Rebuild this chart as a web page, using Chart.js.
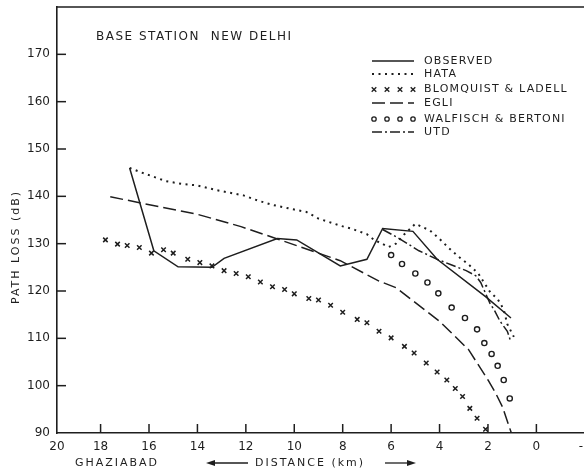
<!DOCTYPE html>
<html><head><meta charset="utf-8">
<script src="https://cdn.jsdelivr.net/npm/chart.js@4/dist/chart.umd.min.js"></script>
<style>html,body{margin:0;padding:0;overflow:hidden;background:#fff;width:584px;height:470px}</style>
</head><body>
<canvas id="c" width="600" height="470" style="display:block;width:600px;height:470px"></canvas>
<script>
// ---- text ----
const chartTitle = 'BASE STATION  NEW DELHI';
const yAxisTitle = 'PATH LOSS (dB)';
const xAxisPlace = 'GHAZIABAD';
const xAxisTitle = 'DISTANCE (km)';
const seriesNames = ['OBSERVED', 'HATA', 'BLOMQUIST & LADELL', 'EGLI', 'WALFISCH & BERTONI', 'UTD'];

// ---- tick labels ----
const xTickValues = [-2, 0, 2, 4, 6, 8, 10, 12, 14, 16, 18, 19.8];
const xTickLabels = ['-2', '0', '2', '4', '6', '8', '10', '12', '14', '16', '18', '20'];
const yTickValues = [90, 100, 110, 120, 130, 140, 150, 160, 170];

// ---- series (distance km, path loss dB) ----
const observedDist = [16.8, 15.8, 14.8, 13.4, 12.9, 10.7, 9.9, 8.1, 7.0, 6.35, 5.1, 4.1, 2.1, 1.05];
const observedLoss = [146.0, 128.5, 125.1, 125.0, 126.9, 131.1, 130.8, 125.3, 126.7, 133.2, 132.6, 126.7, 118.8, 114.3];

const hataDist = [16.8, 16.4, 15.9, 15.3, 14.6, 14.0, 13.2, 12.1, 11.5, 10.9, 10.0, 9.5, 9.0, 8.1, 7.6, 7.0, 6.7, 6.1, 5.8, 5.45, 5.0, 4.4, 4.0, 3.6, 3.2, 2.8, 2.4, 2.2, 1.9, 1.6, 1.35, 1.2, 0.93];
const hataLoss = [146.0, 145.2, 144.3, 143.2, 142.6, 142.3, 141.3, 140.2, 139.1, 138.2, 137.2, 136.7, 135.3, 133.8, 133.1, 132.0, 130.8, 129.3, 130.0, 132.0, 134.2, 132.8, 131.0, 129.0, 127.2, 125.6, 123.7, 122.1, 119.7, 118.3, 116.1, 113.0, 110.3];

const blomquistDist = [17.8, 17.3, 16.9, 16.4, 15.9, 15.4, 15.0, 14.4, 13.9, 13.4, 12.9, 12.4, 11.9, 11.4, 10.9, 10.4, 10.0, 9.4, 9.0, 8.5, 8.0, 7.4, 7.0, 6.5, 6.0, 5.45, 5.05, 4.55, 4.1, 3.7, 3.35, 3.05, 2.75, 2.45, 2.1];
const blomquistLoss = [130.8, 129.9, 129.6, 129.2, 128.0, 128.7, 128.0, 126.7, 126.0, 125.3, 124.3, 123.7, 123.0, 121.9, 120.9, 120.3, 119.4, 118.4, 118.1, 117.0, 115.5, 114.0, 113.3, 111.5, 110.1, 108.3, 106.9, 104.8, 102.9, 101.2, 99.4, 97.7, 95.2, 93.1, 90.8];

const egliDist = [17.6, 14.0, 12.2, 10.7, 8.1, 6.5, 5.8, 4.0, 2.8, 2.0, 1.7, 1.4, 1.0];
const egliLoss = [139.9, 136.2, 133.6, 131.0, 126.4, 122.1, 120.7, 113.6, 107.6, 101.2, 98.6, 95.5, 89.5];

const walfischDist = [6.0, 5.55, 5.0, 4.5, 4.05, 3.5, 2.95, 2.45, 2.15, 1.85, 1.6, 1.35, 1.1];
const walfischLoss = [127.6, 125.7, 123.7, 121.8, 119.5, 116.5, 114.3, 111.9, 109.0, 106.7, 104.2, 101.2, 97.3];

const utdDist = [6.35, 5.7, 4.85, 4.1, 3.55, 2.9, 2.5, 2.3, 1.9, 1.75, 1.5, 1.2, 1.07];
const utdLoss = [133.0, 131.2, 128.5, 126.7, 125.6, 124.3, 123.2, 121.8, 117.2, 116.1, 113.6, 111.5, 109.5];

// ---- build ----
const ink = '#1e1e1e';
const pts = (xs, ys) => xs.map((d, i) => ({x: d, y: ys[i]}));
const lineDs = (label, xs, ys, dash, w) => ({
  label, data: pts(xs, ys), borderColor: ink, borderWidth: w, borderDash: dash,
  pointRadius: 0, showLine: true, fill: false, tension: 0
});
const markDs = (label, xs, ys, style, r, fillCol, bw) => ({
  label, data: pts(xs, ys), showLine: false, pointStyle: style, pointRadius: r,
  pointBorderColor: ink, pointBackgroundColor: fillCol, pointBorderWidth: bw, borderColor: ink
});

const datasets = [
  lineDs(seriesNames[0], observedDist, observedLoss, [], 1.5),
  lineDs(seriesNames[1], hataDist, hataLoss, [2, 4.5], 2),
  markDs(seriesNames[2], blomquistDist, blomquistLoss, 'crossRot', 3.2, ink, 1.5),
  lineDs(seriesNames[3], egliDist, egliLoss, [13, 5], 1.5),
  markDs(seriesNames[4], walfischDist, walfischLoss, 'circle', 2.6, '#fff', 1.4),
  lineDs(seriesNames[5], utdDist, utdLoss, [10, 3, 2, 3], 1.5)
];

const legendRowsY = [61, 74, 89.5, 103, 119, 132];

function spaced(ctx, txt, x, y, spacing, align) {
  ctx.letterSpacing = spacing + 'px';
  ctx.textAlign = align || 'left';
  ctx.fillText(txt, x, y);
  ctx.letterSpacing = '0px';
}

const decor = {
  id: 'decor',
  afterDraw(chart) {
    const {ctx, chartArea: a, scales: {x, y}} = chart;
    ctx.save();
    ctx.strokeStyle = ink; ctx.fillStyle = ink; ctx.lineWidth = 1.5;
    ctx.setLineDash([]);
    const seg = (x1, y1, x2, y2) => { ctx.beginPath(); ctx.moveTo(x1, y1); ctx.lineTo(x2, y2); ctx.stroke(); };
    // top frame line
    seg(a.left, a.top, chart.width, a.top);
    // inward tick marks
    yTickValues.forEach(v => { if (v > 90) { const py = y.getPixelForValue(v); seg(a.left, py, a.left + 9, py); } });
    xTickValues.forEach(v => { if (v < 19.5) { const px = x.getPixelForValue(v); seg(px, a.bottom, px, a.bottom - 9); } });

    ctx.textBaseline = 'middle';
    // title inside plot
    ctx.font = '12px "DejaVu Sans"';
    spaced(ctx, chartTitle, a.left + 39, a.top + 30, 1.5);
    // y title
    ctx.save();
    ctx.translate(16, 247);
    ctx.rotate(-Math.PI / 2);
    ctx.font = '11px "DejaVu Sans"';
    spaced(ctx, yAxisTitle, 0, 0, 2, 'center');
    ctx.restore();
    // x titles
    ctx.font = '11px "DejaVu Sans"';
    spaced(ctx, xAxisPlace, 117, 463, 2, 'center');
    spaced(ctx, xAxisTitle, 255, 463, 2, 'left');
    ctx.lineWidth = 1.3;
    seg(248, 463, 212, 463);
    ctx.beginPath(); ctx.moveTo(206, 463); ctx.lineTo(215, 460); ctx.lineTo(215, 466); ctx.closePath(); ctx.fill();
    seg(385, 463, 409, 463);
    ctx.beginPath(); ctx.moveTo(416, 463); ctx.lineTo(407, 460); ctx.lineTo(407, 466); ctx.closePath(); ctx.fill();

    // legend
    const sx1 = 372, sx2 = 414, tx = 424;
    chart.data.datasets.forEach((ds, i) => {
      const ly = legendRowsY[i];
      ctx.strokeStyle = ink; ctx.fillStyle = ink;
      if (ds.showLine) {
        ctx.lineWidth = ds.borderWidth;
        ctx.setLineDash(ds.borderDash || []);
        seg(sx1, ly, sx2, ly);
        ctx.setLineDash([]);
      } else {
        ctx.lineWidth = 1.3;
        for (let k = 0; k < 4; k++) {
          const cx = 374 + k * 13;
          if (ds.pointStyle === 'crossRot') {
            const r = 2.3;
            seg(cx - r, ly - r, cx + r, ly + r);
            seg(cx - r, ly + r, cx + r, ly - r);
          } else {
            ctx.beginPath(); ctx.arc(cx, ly, 2.2, 0, Math.PI * 2);
            ctx.fillStyle = '#fff'; ctx.fill(); ctx.stroke(); ctx.fillStyle = ink;
          }
        }
      }
      ctx.font = '11px "DejaVu Sans"';
      spaced(ctx, ds.label, tx, ly, 1.2, 'left');
    });
    ctx.restore();
  }
};

new Chart(document.getElementById('c'), {
  type: 'scatter',
  data: {datasets},
  plugins: [decor],
  options: {
    responsive: false, animation: false, devicePixelRatio: 1,
    layout: {padding: {top: 7, right: 4, left: 0, bottom: 0}},
    plugins: {legend: {display: false}, tooltip: {enabled: false}, title: {display: false}},
    scales: {
      x: {
        type: 'linear', reverse: true, min: -2.4, max: 19.8,
        grid: {display: true, drawOnChartArea: false, drawTicks: false},
        border: {display: true, color: ink, width: 1.6},
        afterBuildTicks: s => { s.ticks = xTickValues.map(v => ({value: v})); },
        ticks: {
          color: ink, padding: 7, maxRotation: 0, autoSkip: false,
          font: {family: 'DejaVu Sans', size: 12},
          callback: v => { const i = xTickValues.indexOf(v); return i >= 0 ? xTickLabels[i] : ''; }
        },
        afterFit: s => { s.height = 37; s.paddingLeft = 0; s.paddingRight = 0; }
      },
      y: {
        type: 'linear', min: 90, max: 180,
        grid: {display: true, drawOnChartArea: false, drawTicks: false},
        border: {display: true, color: ink, width: 1.6},
        afterBuildTicks: s => { s.ticks = yTickValues.map(v => ({value: v})); },
        ticks: {color: ink, padding: 7, font: {family: 'DejaVu Sans', size: 12}},
        afterFit: s => { s.width = 57; s.paddingTop = 0; s.paddingBottom = 0; }
      }
    }
  }
});
</script>
</body></html>
